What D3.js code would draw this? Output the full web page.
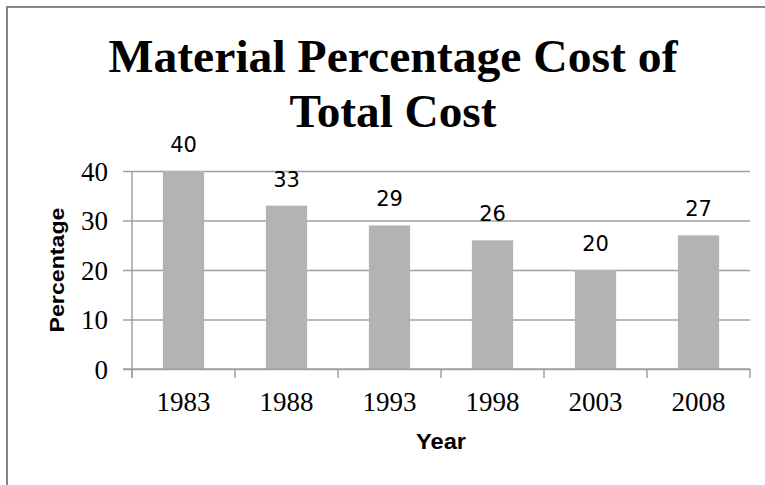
<!DOCTYPE html>
<html><head><meta charset="utf-8">
<script src="https://cdn.jsdelivr.net/npm/d3@7"></script>
<style>body{margin:0;background:#fff}svg{display:block}</style>
</head><body>
<svg id="c" width="765" height="485"></svg>
<script>
const years = ["1983","1988","1993","1998","2003","2008"];
const values = [40, 33, 29, 26, 20, 27];
const yTicks = [0, 10, 20, 30, 40];
const titleLines = ["Material Percentage Cost of", "Total Cost"];

const svg = d3.select("#c");
const W = 765, H = 485;
const m = {left:132, right:750, top:171, bottom:369};

// outer chart border (only top and left edges fall inside the frame)
svg.append("path").attr("d",`M7,${H}V7H${W}`)
  .attr("fill","none").attr("stroke","#868686").attr("stroke-width",2);

const x = d3.scaleBand().domain(years).range([m.left, m.right]).paddingInner(0.6).paddingOuter(0.3);
const y = d3.scaleLinear().domain([0,40]).range([m.bottom, m.top]);

// gridlines + y axis
const yAxis = d3.axisLeft(y).tickValues(yTicks).tickSize(9).tickPadding(15);
const gy = svg.append("g").attr("transform",`translate(${m.left},0)`).call(yAxis);
gy.select(".domain").attr("stroke","#a0a0a0").attr("stroke-width",1.5).attr("d",`M0,${m.top}V${m.bottom+9}`);
gy.selectAll(".tick line").attr("stroke","#a0a0a0").attr("stroke-width",1.5)
  .attr("x1",-9).attr("x2",m.right-m.left);
gy.selectAll(".tick text").attr("font-family","'Liberation Serif','Times New Roman',serif")
  .attr("font-size",27).attr("fill","#000").attr("dy","0.34em");

// bars
svg.append("g").selectAll("rect").data(values).join("rect")
  .attr("x",(d,i)=>x(years[i])).attr("width",x.bandwidth())
  .attr("y",d=>y(d)).attr("height",d=>y(0)-y(d)).attr("fill","#b3b3b3");

// x axis
const xb = d3.scaleLinear().domain([0, years.length]).range([m.left, m.right]);
const bx = svg.append("g").attr("transform",`translate(0,${m.bottom})`);
bx.append("line").attr("x1",m.left-9).attr("x2",m.right).attr("stroke","#a0a0a0").attr("stroke-width",1.5);
bx.selectAll("line.t").data(d3.range(years.length+1)).join("line").attr("class","t")
  .attr("x1",d=>xb(d)).attr("x2",d=>xb(d)).attr("y1",0).attr("y2",9)
  .attr("stroke","#a0a0a0").attr("stroke-width",1.5);
bx.selectAll("text").data(years).join("text")
  .attr("x",d=>x(d)+x.bandwidth()/2).attr("y",42).attr("text-anchor","middle")
  .attr("font-family","'Liberation Serif','Times New Roman',serif").attr("font-size",27)
  .text(d=>d);

// data labels
svg.append("g").selectAll("text").data(values).join("text")
  .attr("x",(d,i)=>x(years[i])+x.bandwidth()/2).attr("y",d=>y(d)-19)
  .attr("text-anchor","middle").attr("font-family","'DejaVu Sans',sans-serif")
  .attr("font-size",21).attr("fill","#000").text(d=>d);

// title
const tl = [{t:titleLines[0], y:72, w:569},{t:titleLines[1], y:127, w:207}];
svg.append("g").selectAll("text").data(tl).join("text")
  .attr("x",393).attr("y",d=>d.y).attr("text-anchor","middle")
  .attr("font-family","'Liberation Serif','Times New Roman',serif").attr("font-weight","bold")
  .attr("font-size",46).attr("textLength",d=>d.w).attr("lengthAdjust","spacingAndGlyphs")
  .text(d=>d.t);

// axis titles
svg.append("text").attr("transform","translate(64,270) rotate(-90)").attr("text-anchor","middle")
  .attr("font-family","'Liberation Sans',Arial,sans-serif").attr("font-weight","bold")
  .attr("font-size",20).attr("textLength",125).attr("lengthAdjust","spacingAndGlyphs").text("Percentage");
svg.append("text").attr("x",441).attr("y",449).attr("text-anchor","middle")
  .attr("font-family","'Liberation Sans',Arial,sans-serif").attr("font-weight","bold")
  .attr("font-size",22).attr("textLength",50).attr("lengthAdjust","spacingAndGlyphs").text("Year");
</script>
</body></html>
